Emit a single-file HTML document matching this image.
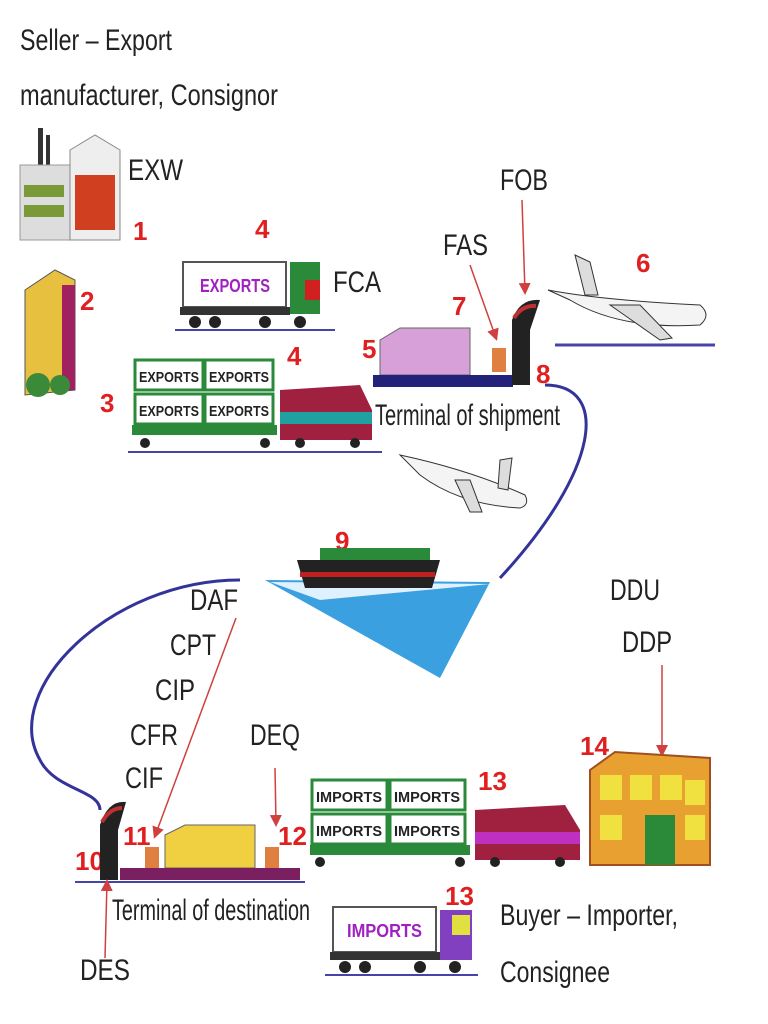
<!DOCTYPE html>
<html><head><meta charset="utf-8"><style>
html,body{margin:0;padding:0;background:#fff;width:768px;height:1024px;overflow:hidden}
svg{display:block}
.t{font-family:"Liberation Sans",sans-serif;font-size:30px;fill:#222}
.r{font-family:"Liberation Sans",sans-serif;font-size:26px;font-weight:bold;fill:#e02020}
.s{font-family:"Liberation Sans",sans-serif;font-size:15px;font-weight:bold;fill:#222}
</style></head><body>
<svg width="768" height="1024" viewBox="0 0 768 1024" xmlns="http://www.w3.org/2000/svg">
<defs><marker id="a" markerWidth="8" markerHeight="8" refX="6" refY="4" orient="auto"><path d="M0,0 L8,4 L0,8z" fill="#d04040"/></marker></defs>
<text class="t" x="20" y="50" textLength="152" lengthAdjust="spacingAndGlyphs">Seller – Export</text>
<text class="t" x="20" y="105" textLength="258" lengthAdjust="spacingAndGlyphs">manufacturer, Consignor</text>
<rect x="38" y="128" width="5" height="40" fill="#333"/><rect x="46" y="135" width="4" height="35" fill="#333"/>
<rect x="20" y="165" width="100" height="75" fill="#ddd" stroke="#999"/>
<path d="M70,150 L95,135 L120,150 L120,240 L70,240z" fill="#eee" stroke="#888"/>
<rect x="24" y="185" width="40" height="12" fill="#7a9a3a"/><rect x="24" y="205" width="40" height="12" fill="#7a9a3a"/>
<rect x="75" y="175" width="40" height="55" fill="#d04020"/>
<text class="t" x="128" y="180" textLength="55" lengthAdjust="spacingAndGlyphs">EXW</text>
<text class="r" x="133" y="240">1</text>
<path d="M25,290 L55,270 L75,280 L75,390 L25,395z" fill="#e8c040" stroke="#555"/>
<rect x="62" y="285" width="13" height="105" fill="#a02060"/>
<circle cx="38" cy="385" r="12" fill="#3a8a3a"/><circle cx="60" cy="385" r="10" fill="#3a8a3a"/>
<text class="r" x="80" y="310">2</text>
<text class="r" x="255" y="238">4</text>
<rect x="183" y="262" width="103" height="45" fill="#fff" stroke="#555" stroke-width="2"/>
<text x="200" y="292" font-family="Liberation Sans" font-weight="bold" font-size="18" fill="#a020c0" textLength="70" lengthAdjust="spacingAndGlyphs">EXPORTS</text>
<rect x="180" y="307" width="110" height="8" fill="#333"/>
<rect x="290" y="262" width="30" height="52" fill="#2a8a3a"/><rect x="305" y="280" width="15" height="20" fill="#d02020"/>
<g fill="#222"><circle cx="195" cy="322" r="6"/><circle cx="215" cy="322" r="6"/><circle cx="265" cy="322" r="6"/><circle cx="300" cy="322" r="6"/></g>
<line x1="175" y1="330" x2="335" y2="330" stroke="#44a" stroke-width="2"/>
<text class="t" x="333" y="292" textLength="48" lengthAdjust="spacingAndGlyphs">FCA</text>
<text class="r" x="287" y="365">4</text>
<text class="r" x="100" y="412">3</text>
<g stroke="#2a8a3a" stroke-width="3" fill="#fff"><rect x="135" y="360" width="68" height="30"/><rect x="205" y="360" width="68" height="30"/><rect x="135" y="394" width="68" height="30"/><rect x="205" y="394" width="68" height="30"/></g>
<g class="s"><text x="139" y="382" textLength="60" lengthAdjust="spacingAndGlyphs">EXPORTS</text><text x="209" y="382" textLength="60" lengthAdjust="spacingAndGlyphs">EXPORTS</text><text x="139" y="416" textLength="60" lengthAdjust="spacingAndGlyphs">EXPORTS</text><text x="209" y="416" textLength="60" lengthAdjust="spacingAndGlyphs">EXPORTS</text></g>
<rect x="132" y="425" width="145" height="10" fill="#2a8a3a"/>
<path d="M280,390 L360,385 L372,410 L372,440 L280,440z" fill="#a02040"/>
<rect x="280" y="412" width="92" height="12" fill="#20a0a0"/>
<g fill="#222"><circle cx="145" cy="443" r="5"/><circle cx="265" cy="443" r="5"/><circle cx="300" cy="443" r="5"/><circle cx="355" cy="443" r="5"/></g>
<line x1="128" y1="452" x2="382" y2="452" stroke="#44a" stroke-width="2"/>
<text class="t" x="500" y="190" textLength="48" lengthAdjust="spacingAndGlyphs">FOB</text>
<line x1="522" y1="200" x2="525" y2="292" stroke="#d04040" stroke-width="1.5" marker-end="url(#a)"/>
<text class="t" x="443" y="255" textLength="45" lengthAdjust="spacingAndGlyphs">FAS</text>
<line x1="470" y1="265" x2="496" y2="338" stroke="#d04040" stroke-width="1.5" marker-end="url(#a)"/>
<text class="r" x="452" y="315">7</text>
<text class="r" x="362" y="358">5</text>
<text class="r" x="536" y="383">8</text>
<path d="M380,340 L400,328 L470,328 L470,375 L380,375z" fill="#d8a0d8" stroke="#666"/>
<rect x="492" y="348" width="14" height="12" fill="#e08040"/><rect x="492" y="360" width="14" height="12" fill="#e08040"/>
<rect x="373" y="375" width="140" height="12" fill="#22227a"/>
<path d="M512,385 L512,320 Q520,298 540,300 L530,330 L530,385z" fill="#222"/>
<path d="M514,318 Q522,305 536,306" stroke="#c03030" stroke-width="4" fill="none"/>
<text class="t" x="375" y="425" textLength="185" lengthAdjust="spacingAndGlyphs" font-size="26">Terminal of shipment</text>
<text class="r" x="636" y="272">6</text>
<path d="M548,290 Q600,300 700,305 Q712,315 700,325 Q620,330 570,300z" fill="#f4f4f4" stroke="#333"/>
<path d="M575,255 L590,262 L598,295 L585,295z" fill="#ddd" stroke="#333"/>
<path d="M610,305 L660,340 L672,338 L640,305z" fill="#ddd" stroke="#333"/>
<line x1="555" y1="345" x2="715" y2="345" stroke="#44a" stroke-width="3"/>
<path d="M545,385 C610,385 600,470 500,578" stroke="#33339a" stroke-width="3" fill="none"/>
<path d="M240,580 C110,580 0,690 40,760 C55,790 100,790 100,810" stroke="#33339a" stroke-width="3" fill="none"/>
<path d="M400,455 Q470,470 525,495 Q530,505 520,508 Q460,505 420,475z" fill="#f4f4f4" stroke="#333"/>
<path d="M500,460 L512,458 L508,490 L498,488z" fill="#ddd" stroke="#333"/>
<path d="M455,480 L470,512 L482,512 L470,480z" fill="#ddd" stroke="#333"/>
<text class="r" x="335" y="550">9</text>
<path d="M265,580 L490,582 L440,678z" fill="#3aa0e0"/>
<path d="M270,582 L490,584 L320,600z" fill="#dff0ff"/>
<path d="M297,560 L440,560 L432,588 L305,588z" fill="#222"/>
<rect x="300" y="572" width="135" height="5" fill="#c02020"/>
<rect x="320" y="548" width="110" height="12" fill="#2a8a3a"/>
<text class="t" x="190" y="610" textLength="48" lengthAdjust="spacingAndGlyphs">DAF</text>
<text class="t" x="170" y="655" textLength="46" lengthAdjust="spacingAndGlyphs">CPT</text>
<text class="t" x="155" y="700" textLength="40" lengthAdjust="spacingAndGlyphs">CIP</text>
<text class="t" x="130" y="745" textLength="48" lengthAdjust="spacingAndGlyphs">CFR</text>
<text class="t" x="125" y="788" textLength="38" lengthAdjust="spacingAndGlyphs">CIF</text>
<text class="t" x="250" y="745" textLength="50" lengthAdjust="spacingAndGlyphs">DEQ</text>
<line x1="236" y1="618" x2="155" y2="836" stroke="#d04040" stroke-width="1.5" marker-end="url(#a)"/>
<line x1="275" y1="768" x2="276" y2="824" stroke="#d04040" stroke-width="1.5" marker-end="url(#a)"/>
<text class="t" x="610" y="600" textLength="50" lengthAdjust="spacingAndGlyphs">DDU</text>
<text class="t" x="622" y="652" textLength="50" lengthAdjust="spacingAndGlyphs">DDP</text>
<line x1="662" y1="665" x2="662" y2="754" stroke="#d04040" stroke-width="1.5" marker-end="url(#a)"/>
<text class="r" x="580" y="755">14</text>
<path d="M590,770 L615,752 L710,758 L710,865 L590,865z" fill="#e8a030" stroke="#a05020" stroke-width="2"/>
<g fill="#f0e040"><rect x="600" y="775" width="22" height="25"/><rect x="630" y="775" width="22" height="25"/><rect x="660" y="775" width="22" height="25"/><rect x="685" y="780" width="20" height="25"/><rect x="600" y="815" width="22" height="25"/><rect x="685" y="815" width="20" height="25"/></g>
<rect x="645" y="815" width="30" height="50" fill="#2a8a3a"/>
<text class="r" x="478" y="790">13</text>
<g stroke="#2a8a3a" stroke-width="3" fill="#fff"><rect x="312" y="780" width="75" height="30"/><rect x="390" y="780" width="75" height="30"/><rect x="312" y="814" width="75" height="30"/><rect x="390" y="814" width="75" height="30"/></g>
<g class="s"><text x="316" y="802" textLength="66" lengthAdjust="spacingAndGlyphs">IMPORTS</text><text x="394" y="802" textLength="66" lengthAdjust="spacingAndGlyphs">IMPORTS</text><text x="316" y="836" textLength="66" lengthAdjust="spacingAndGlyphs">IMPORTS</text><text x="394" y="836" textLength="66" lengthAdjust="spacingAndGlyphs">IMPORTS</text></g>
<rect x="310" y="845" width="160" height="10" fill="#2a8a3a"/>
<path d="M475,810 L565,805 L580,830 L580,860 L475,860z" fill="#a02040"/>
<rect x="475" y="832" width="105" height="12" fill="#c030c0"/>
<g fill="#222"><circle cx="320" cy="862" r="5"/><circle cx="460" cy="862" r="5"/><circle cx="495" cy="862" r="5"/><circle cx="560" cy="862" r="5"/></g>
<text class="r" x="75" y="870">10</text>
<text class="r" x="123" y="845">11</text>
<text class="r" x="278" y="845">12</text>
<path d="M100,880 L100,825 Q108,800 126,802 L118,830 L118,880z" fill="#222"/>
<path d="M102,822 Q110,808 122,808" stroke="#c03030" stroke-width="4" fill="none"/>
<rect x="145" y="847" width="14" height="12" fill="#e08040"/><rect x="145" y="859" width="14" height="10" fill="#e08040"/>
<path d="M165,835 L185,825 L255,825 L255,868 L165,868z" fill="#f0d040" stroke="#666"/>
<rect x="265" y="847" width="14" height="12" fill="#e08040"/><rect x="265" y="859" width="14" height="10" fill="#e08040"/>
<rect x="120" y="868" width="180" height="12" fill="#7a2060"/>
<line x1="75" y1="882" x2="305" y2="882" stroke="#44a" stroke-width="2"/>
<text class="t" x="112" y="920" textLength="198" lengthAdjust="spacingAndGlyphs" font-size="26">Terminal of destination</text>
<text class="t" x="80" y="980" textLength="50" lengthAdjust="spacingAndGlyphs">DES</text>
<line x1="105" y1="958" x2="107" y2="882" stroke="#d04040" stroke-width="1.5" marker-end="url(#a)"/>
<text class="r" x="445" y="905">13</text>
<rect x="333" y="907" width="103" height="45" fill="#fff" stroke="#555" stroke-width="2"/>
<text x="347" y="937" font-family="Liberation Sans" font-weight="bold" font-size="18" fill="#a020c0" textLength="75" lengthAdjust="spacingAndGlyphs">IMPORTS</text>
<rect x="330" y="952" width="110" height="8" fill="#333"/>
<rect x="440" y="910" width="32" height="50" fill="#8040c0"/><rect x="452" y="915" width="18" height="20" fill="#e0e040"/>
<g fill="#222"><circle cx="345" cy="967" r="6"/><circle cx="365" cy="967" r="6"/><circle cx="420" cy="967" r="6"/><circle cx="455" cy="967" r="6"/></g>
<line x1="325" y1="975" x2="478" y2="975" stroke="#44a" stroke-width="2"/>
<text class="t" x="500" y="925" textLength="178" lengthAdjust="spacingAndGlyphs">Buyer – Importer,</text>
<text class="t" x="500" y="982" textLength="110" lengthAdjust="spacingAndGlyphs">Consignee</text>
</svg>
</body></html>
